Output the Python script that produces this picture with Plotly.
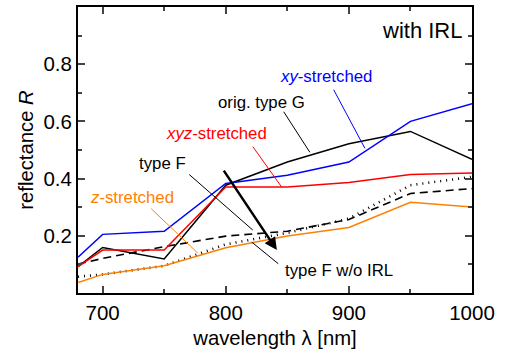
import plotly.graph_objects as go

wavelength = [680, 700, 750, 800, 850, 900, 950, 1000]
xy_stretched = [0.125, 0.205, 0.216, 0.383, 0.412, 0.458, 0.600, 0.662]
orig_type_G = [0.092, 0.159, 0.119, 0.377, 0.458, 0.522, 0.565, 0.467]
xyz_stretched = [0.092, 0.150, 0.150, 0.371, 0.371, 0.386, 0.414, 0.420]
z_stretched = [0.037, 0.065, 0.095, 0.158, 0.199, 0.229, 0.317, 0.301]
type_F = [0.101, 0.121, 0.162, 0.199, 0.216, 0.257, 0.348, 0.365]
type_F_wo_IRL = [0.057, 0.065, 0.095, 0.170, 0.210, 0.260, 0.377, 0.406]

FONT = "Liberation Sans, Arial, sans-serif"

fig = go.Figure()
series = [
    (type_F, "type F", dict(color="black", width=1.6, dash="8px,5px")),
    (type_F_wo_IRL, "type F w/o IRL", dict(color="black", width=2.6, dash="1px,5px")),
    (z_stretched, "z-stretched", dict(color="#ff8000", width=1.5)),
    (orig_type_G, "orig. type G", dict(color="black", width=1.5)),
    (xyz_stretched, "xyz-stretched", dict(color="#ff0000", width=1.5)),
    (xy_stretched, "xy-stretched", dict(color="#0000ff", width=1.5)),
]
for ys, name, line in series:
    fig.add_trace(go.Scatter(x=wavelength, y=ys, mode="lines", name=name, line=line))

# labels: text, text pos, leader from, leader to, colour
labels = [
    ("<i>xy</i>-stretched", 881.5, 0.757, (887.0, 0.716), (913.0, 0.506), "#0000ff"),
    ("orig. type G", 828.7, 0.667, (846.3, 0.639), (868.3, 0.492), "black"),
    ("<i>xyz</i>-stretched", 792.7, 0.558, (821.1, 0.517), (845.5, 0.370), "#ff0000"),
    ("type F", 748.7, 0.454, (769.1, 0.419), (822.0, 0.220), "black"),
    ("<i>z</i>-stretched", 723.5, 0.335, (738.2, 0.300), (777.2, 0.140), "#ff8000"),
    ("type F w/o IRL", 891.8, 0.080, (843.9, 0.098), (821.1, 0.178), "black"),
]
annotations = []
for text, tx, ty, p0, p1, col in labels:
    annotations.append(dict(x=tx, y=ty, xref="x", yref="y", text=text, showarrow=False,
                            font=dict(family=FONT, size=16.8, color=col)))
    annotations.append(dict(x=p1[0], y=p1[1], ax=p0[0], ay=p0[1], xref="x", yref="y",
                            axref="x", ayref="y", text="", showarrow=True, arrowhead=0,
                            arrowwidth=1, arrowcolor=col))
# big arrow
annotations.append(dict(x=841.5, y=0.150, ax=797.6, ay=0.433, xref="x", yref="y",
                        axref="x", ayref="y", text="", showarrow=True, arrowhead=2,
                        arrowsize=1.0, arrowwidth=2.5, arrowcolor="black"))
annotations.append(dict(x=0.98, y=0.97, xref="paper", yref="paper", xanchor="right",
                        yanchor="top", text="with IRL", showarrow=False,
                        font=dict(family=FONT, size=22, color="black")))

fig.update_layout(
    width=509, height=356,
    margin=dict(l=78, r=37, t=5, b=63),
    paper_bgcolor="white", plot_bgcolor="white",
    showlegend=False,
    font=dict(family=FONT, size=20, color="black"),
    annotations=annotations,
)
fig.update_xaxes(
    range=[680, 1000], tickvals=[700, 800, 900, 1000],
    ticks="inside", ticklen=7, tickwidth=2, showline=True, linewidth=2, linecolor="black",
    mirror="ticks", showgrid=False, zeroline=False, tickfont=dict(size=20.5),
    minor=dict(tickvals=[750, 850, 950], ticks="inside", ticklen=4, tickwidth=2, showgrid=False),
    title=dict(text="wavelength λ [nm]", font=dict(size=20.3), standoff=8),
)
fig.update_yaxes(
    range=[0, 1.0], tickvals=[0.2, 0.4, 0.6, 0.8], ticktext=["0.2", "0.4", "0.6", "0.8"],
    ticks="inside", ticklen=7, tickwidth=2, showline=True, linewidth=2, linecolor="black",
    mirror="ticks", showgrid=False, zeroline=False, tickfont=dict(size=20.5),
    minor=dict(tickvals=[0.1, 0.3, 0.5, 0.7, 0.9], ticks="inside", ticklen=4, tickwidth=2, showgrid=False),
    title=dict(text="reflectance <i>R</i>", font=dict(size=20.3), standoff=4),
)
fig.write_html("out.html")
